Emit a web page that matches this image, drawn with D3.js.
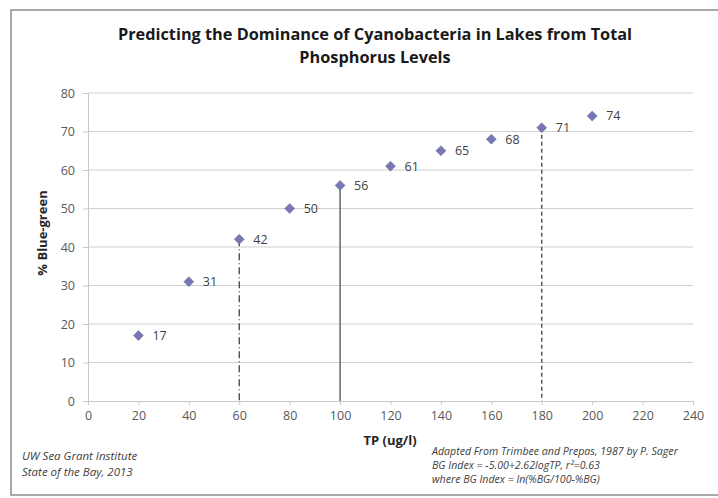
<!DOCTYPE html>
<html><head><meta charset="utf-8">
<script src="https://cdn.jsdelivr.net/npm/d3@7/dist/d3.min.js"></script>
<style>
html,body{margin:0;padding:0;background:#fff;}
svg{display:block;font-family:"Open Sans","Liberation Sans",sans-serif;}
</style></head><body>
<svg id="c" width="718" height="498"></svg>
<script>
const tpValues = [20, 40, 60, 80, 100, 120, 140, 160, 180, 200];
const blueGreen = [17, 31, 42, 50, 56, 61, 65, 68, 71, 74];
const xTicks = [0, 20, 40, 60, 80, 100, 120, 140, 160, 180, 200, 220, 240];
const yTicks = [0, 10, 20, 30, 40, 50, 60, 70, 80];
const dropLines = [
  {tp: 60, bg: 42, dash: "7,3,1,3", color: "#404040"},
  {tp: 100, bg: 56, dash: null, color: "#505050"},
  {tp: 180, bg: 71, dash: "4,3", color: "#404040"}
];
const titleLines = ["Predicting the Dominance of Cyanobacteria in Lakes from Total", "Phosphorus Levels"];
const noteLeft = ["UW Sea Grant Institute", "State of the Bay, 2013"];
const noteRight = ["Adapted From Trimbee and Prepas, 1987 by P. Sager", "BG Index = -5.00+2.62logTP, r\u00B2=0.63", "where BG Index = ln(%BG/100-%BG)"];

const svg = d3.select("#c");
// outer frame
svg.append("rect").attr("x", 11).attr("y", 10).attr("width", 720).attr("height", 485)
  .attr("fill", "#fff").attr("stroke", "#8c8c8c").attr("stroke-width", 1.5);

const x = d3.scaleLinear().domain([0, 240]).range([88, 693]);
const y = d3.scaleLinear().domain([0, 80]).range([401, 93]);

// gridlines
svg.append("g").selectAll("line").data(yTicks.filter(d => d > 0)).join("line")
  .attr("x1", x(0)).attr("x2", x(240)).attr("y1", d => y(d)).attr("y2", d => y(d))
  .attr("stroke", "#d0d0d0").attr("stroke-width", 1);

// y axis
const ya = svg.append("g").attr("transform", `translate(${x(0)},0)`)
  .call(d3.axisLeft(y).tickValues(yTicks).tickSize(5).tickPadding(8));
ya.select(".domain").attr("stroke", "#c8c8c8");
ya.selectAll(".tick line").attr("stroke", "#c8c8c8");
ya.selectAll("text").attr("fill", "#595959").attr("font-size", 12.5).attr("font-family", "Open Sans, sans-serif");

// x axis
const xa = svg.append("g").attr("transform", `translate(0,${y(0)})`)
  .call(d3.axisBottom(x).tickValues(xTicks).tickSize(4).tickPadding(6));
xa.select(".domain").attr("stroke", "#c8c8c8");
xa.selectAll(".tick line").attr("stroke", "#c8c8c8");
xa.selectAll("text").attr("fill", "#595959").attr("font-size", 12.5).attr("font-family", "Open Sans, sans-serif");

// drop lines
svg.append("g").selectAll("line").data(dropLines).join("line")
  .attr("x1", d => x(d.tp)).attr("x2", d => x(d.tp))
  .attr("y1", d => y(d.bg)).attr("y2", y(0))
  .attr("stroke", d => d.color).attr("stroke-width", 1.3)
  .attr("stroke-dasharray", d => d.dash);

// markers
const pts = tpValues.map((t, i) => ({t, v: blueGreen[i]}));
svg.append("g").selectAll("path").data(pts).join("path")
  .attr("d", d3.symbol(d3.symbolDiamond2, 64))
  .attr("transform", d => `translate(${x(d.t)},${y(d.v)})`)
  .attr("fill", "#7777b2").attr("stroke", "#6a6aa8").attr("stroke-width", 0.5);

// labels
svg.append("g").selectAll("text").data(pts).join("text")
  .attr("x", d => x(d.t) + 14).attr("y", d => y(d.v)).attr("dy", "0.35em")
  .attr("font-size", 12.5).attr("fill", "#404040").text(d => d.v);

// title
svg.append("g").selectAll("text").data(titleLines).join("text")
  .attr("x", 375).attr("y", (d, i) => 40 + i * 23).attr("text-anchor", "middle")
  .attr("font-size", 16.3).attr("font-weight", "bold").attr("fill", "#1a1a1a")
  .text(d => d);

// axis titles
svg.append("text").attr("x", 390).attr("y", 445).attr("text-anchor", "middle")
  .attr("font-size", 13).attr("font-weight", "bold").attr("fill", "#262626").text("TP (ug/l)");
svg.append("text").attr("transform", "translate(42,233) rotate(-90)").attr("dy", "0.35em")
  .attr("text-anchor", "middle").attr("font-size", 13).attr("font-weight", "bold")
  .attr("fill", "#262626").text("% Blue-green");

// notes
svg.append("g").selectAll("text").data(noteLeft).join("text")
  .attr("x", 22).attr("y", (d, i) => 460 + i * 16)
  .attr("font-size", 11.5).attr("font-style", "italic").attr("fill", "#404040").text(d => d);
svg.append("g").selectAll("text").data(noteRight).join("text")
  .attr("x", 432).attr("y", (d, i) => 455 + i * 13.8)
  .attr("font-size", 10.6).attr("font-style", "italic").attr("fill", "#404040").text(d => d);
</script>
</body></html>
